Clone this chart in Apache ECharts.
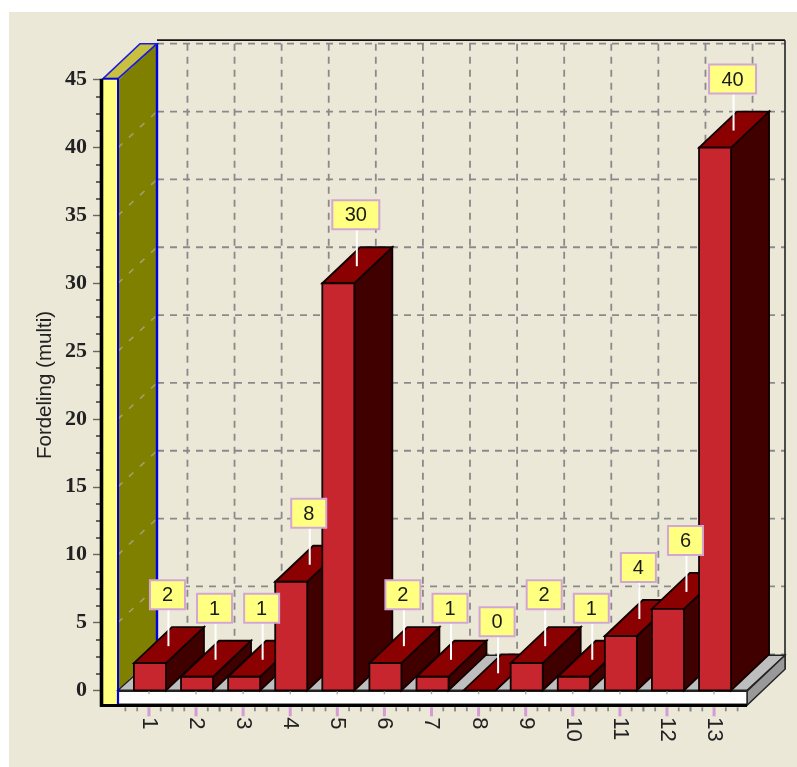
<!DOCTYPE html>
<html>
<head>
<meta charset="utf-8">
<style>html,body{margin:0;padding:0;background:#fff}#c{width:797px;height:767px}#c canvas{filter:blur(0.45px)}</style>
<script src="https://cdn.jsdelivr.net/npm/echarts@6/dist/echarts.min.js"></script>
</head>
<body>
<div id="c"></div>
<script>
const categories = ['1','2','3','4','5','6','7','8','9','10','11','12','13'];
const values = [2,1,1,8,30,2,1,0,2,1,4,6,40];
const yTicks = {min:0, max:45, interval:5};
const yTitle = 'Fordeling (multi)';

const DX = 38, DY = -36;            // depth of the 3D projection
const PAGE = '#EBE8D8';
const GRID = {left:125.4, right:59.4, top:79.7, bottom:76.7};

function line(x1,y1,x2,y2,stroke,lineWidth,dash){
  return {type:'line',shape:{x1,y1,x2,y2},style:{stroke,lineWidth,lineDash:dash||null,fill:null}};
}
function poly(points,fill,stroke,lineWidth){
  return {type:'polygon',shape:{points},style:{fill,stroke:stroke||null,lineWidth:lineWidth||0,lineJoin:'miter'}};
}

function renderChrome(params,api){
  const cs = params.coordSys;
  const band = api.size([1,0])[0];
  const y0 = api.coord([0,0])[1];
  const yTop = api.coord([0,yTicks.max])[1];
  const fx = cs.x - 7.4;              // front plane left
  const rx = cs.x + cs.width + 9.4;   // front plane right
  const bx = fx + DX + 1;             // back plane left
  const brx = rx + DX;                // back plane right
  const by0 = y0 + DY + 1;
  const c = [];
  const dash=[7,6], gridCol='#8A8A8A';
  // back wall gridlines
  for(let v=yTicks.min;v<=yTicks.max;v+=yTicks.interval){
    const y=api.coord([0,v])[1]+DY;
    c.push(line(bx,y,brx,y,gridCol,1.8,dash));
  }
  categories.forEach((n,i)=>{
    const x=api.coord([i,0])[0]+DX+0.5;
    c.push(line(x,yTop+DY,x,by0,gridCol,1.8,dash));
  });
  // back wall border
  c.push(line(bx,yTop+DY-3.5,brx,yTop+DY-3.5,'#111',1.8));
  c.push(line(brx,yTop+DY-3.5,brx,by0+14,'#222',1.6));
  // left wall (side, top, front)
  c.push(poly([[fx,yTop],[bx,yTop+DY],[bx,by0],[fx,y0]],'#808000'));
  for(let v=yTicks.min;v<=yTicks.max;v+=yTicks.interval){
    const y=api.coord([0,v])[1];
    c.push(line(fx,y,bx,y+DY,'#A0A070',1.6,[6,9]));
  }
  c.push(line(bx,yTop+DY,bx,by0,'#0000E0',2.4));
  c.push(poly([[fx-15,yTop-1],[fx,yTop-1],[bx,yTop+DY],[bx-17,yTop+DY]],'#C8C040','#1A1AE0',1.6));
  c.push(poly([[fx-15,yTop-1],[fx,yTop-1],[fx,y0+15],[fx-15,y0+15]],'#FFFF80'));
  // floor
  c.push(poly([[fx,y0],[rx,y0],[brx,by0],[bx,by0]],'#BEBEBE','#222',1.4));
  c.push(poly([[rx,y0+1],[brx,by0],[brx,by0+14],[rx,y0+15]],'#999999','#222',1.4));
  c.push({type:'rect',shape:{x:fx,y:y0+1,width:rx-fx,height:13},style:{fill:'#FFFFFF',stroke:'#222',lineWidth:1.4}});
  c.push(line(fx,y0-1,fx,y0+15,'#0000E0',2.2));
  c.push(line(fx,yTop-1,fx,y0+1,'#0000E0',2));
  c.push(line(fx-15,yTop-1,fx,yTop-1,'#0000E0',2));
  // outer black axis lines
  c.push(line(fx-16.5,yTop-1,fx-16.5,y0+16.5,'#000',3.6));
  c.push(line(fx-18,y0+15.2,rx,y0+15.2,'#000',3));
  // x ticks (major pink, minor gray) and small baseline ticks
  categories.forEach((n,i)=>{
    const x=api.coord([i,0])[0];
    [-2,-1,1,2].forEach(k=>{
      const t=x+k*band/4;
      c.push(line(t,y0+17,t,y0+21,'#8A8A8A',1.8));
    });
    c.push(line(x,y0+17,x,y0+26,'#D49CD4',3));
    c.push(line(x,y0+1,x,y0+4,'#AAAAAA',1.4));
  });
  return {type:'group',silent:true,children:c};
}

function renderBar(params,api){
  const i=api.value(0), v=api.value(1);
  const cx=api.coord([i,v])[0]+1;
  const yv=api.coord([i,v])[1];
  const y0=api.coord([i,0])[1];
  const w=api.size([1,0])[0]*0.68;
  const l=cx-w/2, r=cx+w/2;
  const ol='#100000', lw=1.8;
  const c=[
    poly([[r,yv],[r+DX,yv+DY],[r+DX,y0+DY],[r,y0]],'#400000',ol,lw),
    poly([[l,yv],[l+DX,yv+DY],[r+DX,yv+DY],[r,yv]],'#8B0000',ol,lw)
  ];
  if(v>0) c.push({type:'rect',shape:{x:l,y:yv,width:w,height:y0-yv},style:{fill:'#C8262E',stroke:ol,lineWidth:lw}});
  return {type:'group',silent:true,children:c};
}

function renderLabel(params,api){
  const i=api.value(0), v=api.value(1);
  const p=api.coord([i,v]);
  const cx=p[0]+DX/2-0.5;
  const mid=p[1]+DY/2+1;
  const s=String(v);
  const w=23+12*s.length, h=29, gap=37;
  return {type:'group',silent:true,children:[
    line(cx+1,mid,cx+1,mid-gap,'#FFFFFF',2),
    {type:'rect',shape:{x:cx-w/2,y:mid-gap-h,width:w,height:h},style:{fill:'#FFFF80',stroke:'#D4A6D4',lineWidth:2}},
    {type:'text',style:{text:s,x:cx,y:mid-gap-h/2+1,align:'center',verticalAlign:'middle',fill:'#1A1A1A',font:'20px "Liberation Sans"'}}
  ]};
}

const barData = values.map((v,i)=>[i,v]);
const chart = echarts.init(document.getElementById('c'),null,{renderer:'canvas'});
chart.setOption({
  animation:false,
  backgroundColor:'#FFFFFF',
  graphic:[{type:'rect',z:-10,silent:true,shape:{x:9,y:12,width:788,height:755},style:{fill:PAGE}}],
  grid:Object.assign({containLabel:false},GRID),
  xAxis:{
    type:'category',data:categories,position:'bottom',offset:16,boundaryGap:true,
    axisLine:{show:false},
    axisTick:{show:false},
    axisLabel:{rotate:-90,interval:0,margin:11,color:'#222',fontFamily:'"Liberation Sans"',fontSize:22},
    splitLine:{show:false}
  },
  yAxis:{
    type:'value',min:yTicks.min,max:yTicks.max,interval:yTicks.interval,position:'left',offset:25.4,
    name:yTitle,nameLocation:'middle',nameGap:44,nameMoveOverlap:false,
    nameTextStyle:{color:'#222',fontFamily:'"Liberation Sans"',fontSize:20.5},
    axisLine:{show:false},
    axisTick:{show:true,length:7,lineStyle:{color:'#666',width:1.4}},
    minorTick:{show:true,splitNumber:4,length:4,lineStyle:{color:'#555',width:1.8}},
    axisLabel:{margin:13,color:'#222',fontFamily:'"Liberation Serif"',fontWeight:'bold',fontSize:22},
    splitLine:{show:false},minorSplitLine:{show:false}
  },
  tooltip:{show:false},
  series:[
    {type:'custom',name:'walls',z:1,data:[[0,0]],renderItem:renderChrome,encode:{x:0,y:1}},
    {type:'custom',name:'bars',z:2,data:barData,renderItem:renderBar,encode:{x:0,y:1}},
    {type:'custom',name:'labels',z:3,data:barData,renderItem:renderLabel,encode:{x:0,y:1}}
  ]
});
</script>
</body>
</html>
